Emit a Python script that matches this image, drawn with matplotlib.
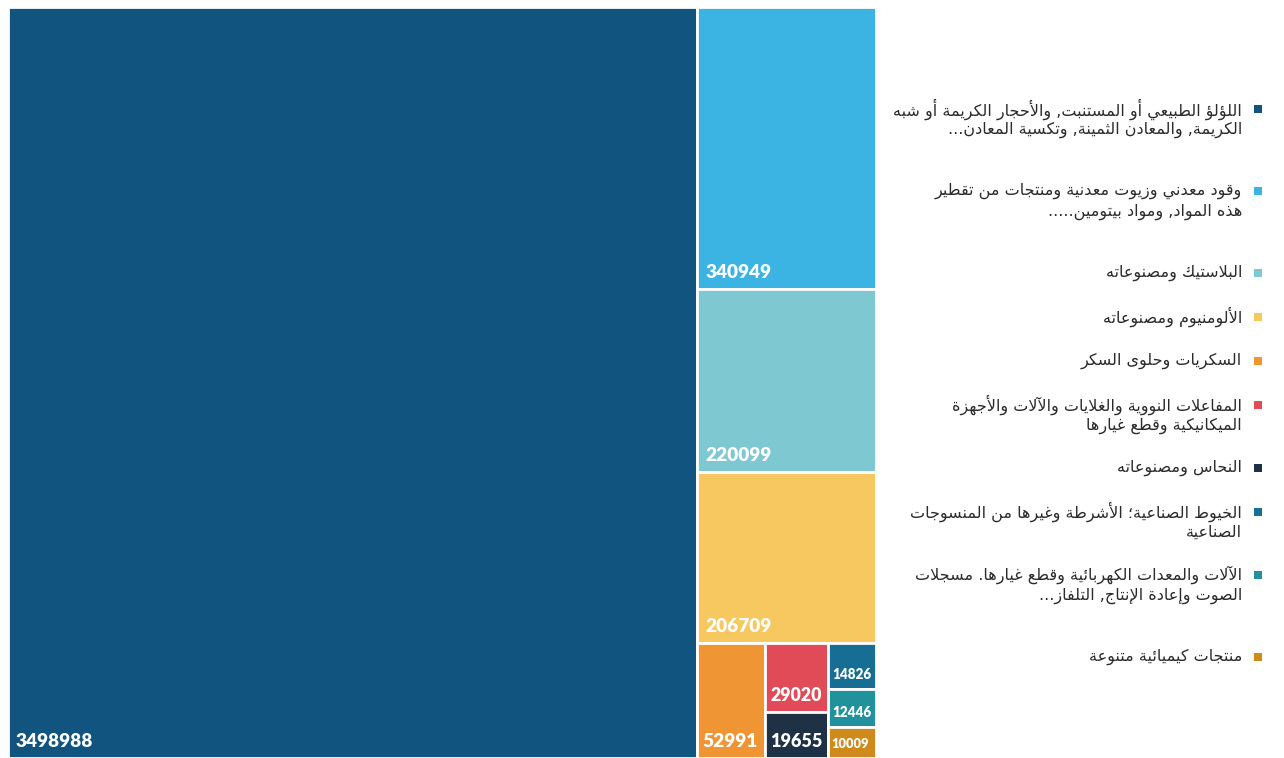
import matplotlib
matplotlib.use("Agg")
import matplotlib.pyplot as plt
from matplotlib.patches import Rectangle
from matplotlib.font_manager import FontProperties
from matplotlib.textpath import TextPath

values = [3498988, 340949, 220099, 206709, 52991, 29020, 19655, 14826, 12446, 10009]
colors = ["#10547f", "#3bb3e3", "#7ec8d2", "#f6c85f", "#ef9533",
          "#e04b57", "#1f3144", "#176e94", "#21929b", "#cf8a1d"]
# legend labels, already broken into display lines
labels = [
    ["اللؤلؤ الطبيعي أو المستنبت, والأحجار الكريمة أو شبه",
     "الكريمة, والمعادن الثمينة, وتكسية المعادن..."],
    ["وقود معدني وزيوت معدنية ومنتجات من تقطير",
     "هذه المواد, ومواد بيتومين....."],
    ["البلاستيك ومصنوعاته"],
    ["الألومنيوم ومصنوعاته"],
    ["السكريات وحلوى السكر"],
    ["المفاعلات النووية والغلايات والآلات والأجهزة",
     "الميكانيكية وقطع غيارها"],
    ["النحاس ومصنوعاته"],
    ["الخيوط الصناعية؛ الأشرطة وغيرها من المنسوجات",
     "الصناعية"],
    ["الآلات والمعدات الكهربائية وقطع غيارها. مسجلات",
     "الصوت وإعادة الإنتاج, التلفاز..."],
    ["منتجات كيميائية متنوعة"],
]

# --- minimal arabic shaping (matplotlib has no complex text layout) ---
_letters = "ءآأؤإئابةتثجحخدذرزسشصضطظعغفقكلمنهوىي"
_counts = [1, 2, 2, 2, 2, 4, 2, 4, 2, 4, 4, 4, 4, 4, 2, 2, 2, 2,
           4, 4, 4, 4, 4, 4, 4, 4, 4, 4, 4, 4, 4, 4, 4, 2, 2, 4]
FORMS = {}
_code = 0xFE80
for ch, n in zip(_letters, _counts):
    FORMS[ch] = tuple(chr(_code + k) for k in range(n))
    _code += n
LAM_ALEF = {"آ": ("\uFEF5", "\uFEF6"), "أ": ("\uFEF7", "\uFEF8"),
            "إ": ("\uFEF9", "\uFEFA"), "ا": ("\uFEFB", "\uFEFC")}


def shape(text):
    out = []
    prev_joins = False
    i = 0
    while i < len(text):
        ch = text[i]
        nxt = text[i + 1] if i + 1 < len(text) else ""
        if ch == "ل" and nxt in LAM_ALEF:
            iso, fin = LAM_ALEF[nxt]
            out.append(fin if prev_joins else iso)
            prev_joins = False
            i += 2
            continue
        forms = FORMS.get(ch)
        if forms is None:
            out.append(ch)
            prev_joins = False
            i += 1
            continue
        next_joins = len(forms) == 4 and nxt in FORMS and len(FORMS[nxt]) >= 2
        before = prev_joins and len(forms) >= 2
        if before and next_joins:
            out.append(forms[3])
        elif before:
            out.append(forms[1])
        elif next_joins:
            out.append(forms[2])
        else:
            out.append(forms[0])
        prev_joins = len(forms) == 4
        i += 1
    return "".join(reversed(out))


# --- squarified treemap, each row takes whichever orientation is squarer ---
def worst(areas, side):
    other = sum(areas) / side
    return max(max((a / other) / other, other / (a / other)) for a in areas)


def squarify(vals, x, y, w, h):
    total = sum(vals)
    areas = [v * w * h / total for v in vals]
    rects = []
    i = 0
    while i < len(areas):
        best = None
        for vertical in (True, False):
            side = h if vertical else w
            j = i + 1
            score = worst(areas[i:j], side)
            while j < len(areas):
                s2 = worst(areas[i:j + 1], side)
                if s2 > score:
                    break
                score = s2
                j += 1
            if best is None or score < best[0]:
                best = (score, vertical, j)
        _, vertical, j = best
        row = areas[i:j]
        if vertical:
            cw = sum(row) / h
            yy = y
            for a in row:
                rects.append((x, yy, cw, a / cw))
                yy += a / cw
            x += cw
            w -= cw
        else:
            rh = sum(row) / w
            xx = x
            for a in row:
                rects.append((xx, y, a / rh, rh))
                xx += a / rh
            y += rh
            h -= rh
        i = j
    return rects


W, H = 1284, 758
fig = plt.figure(figsize=(W / 100, H / 100), dpi=100)

ax = fig.add_axes([7.5 / W, 0, 868.5 / W, 751 / H])
tw, th = ax.bbox.width, ax.bbox.height
ax.set_xlim(0, tw)
ax.set_ylim(th, 0)
ax.axis("off")

num_font = FontProperties(family="Lato", weight="heavy")
unit_w = lambda s: TextPath((0, 0), s, size=1, prop=num_font).get_extents().width

for (rx, ry, rw, rh), v, c in zip(squarify(values, 0, 0, tw, th), values, colors):
    ax.add_patch(Rectangle((rx, ry), rw, rh, facecolor=c, edgecolor="white", linewidth=2))
    s = str(v)
    pad = min(8, rw * 0.08)
    px = min(19, 0.42 * rh, (rw - 2 * pad - 2) / unit_w(s))
    ax.text(rx + pad, ry + rh - 8, s, color="white", fontproperties=num_font,
            fontsize=px * 0.72, ha="left", va="bottom")

# legend on the right
lg = fig.add_axes([0, 0, 1, 1], facecolor="none")
lg.set_xlim(0, W)
lg.set_ylim(H, 0)
lg.axis("off")

y = 109
for lines, c in zip(labels, colors):
    lg.add_patch(Rectangle((1254, y - 4), 8, 8, facecolor=c, edgecolor="none"))
    for k, line in enumerate(lines):
        lg.text(1242, y + k * 20.5, shape(line), family="DejaVu Sans", fontsize=11.5,
                color="#2b2b2b", ha="right", va="center")
    truncated = lines[-1].endswith("...")
    extra = 2 if truncated else len(lines) - 1
    y += 44 + 19 * extra

fig.savefig("out.png", dpi=100)
